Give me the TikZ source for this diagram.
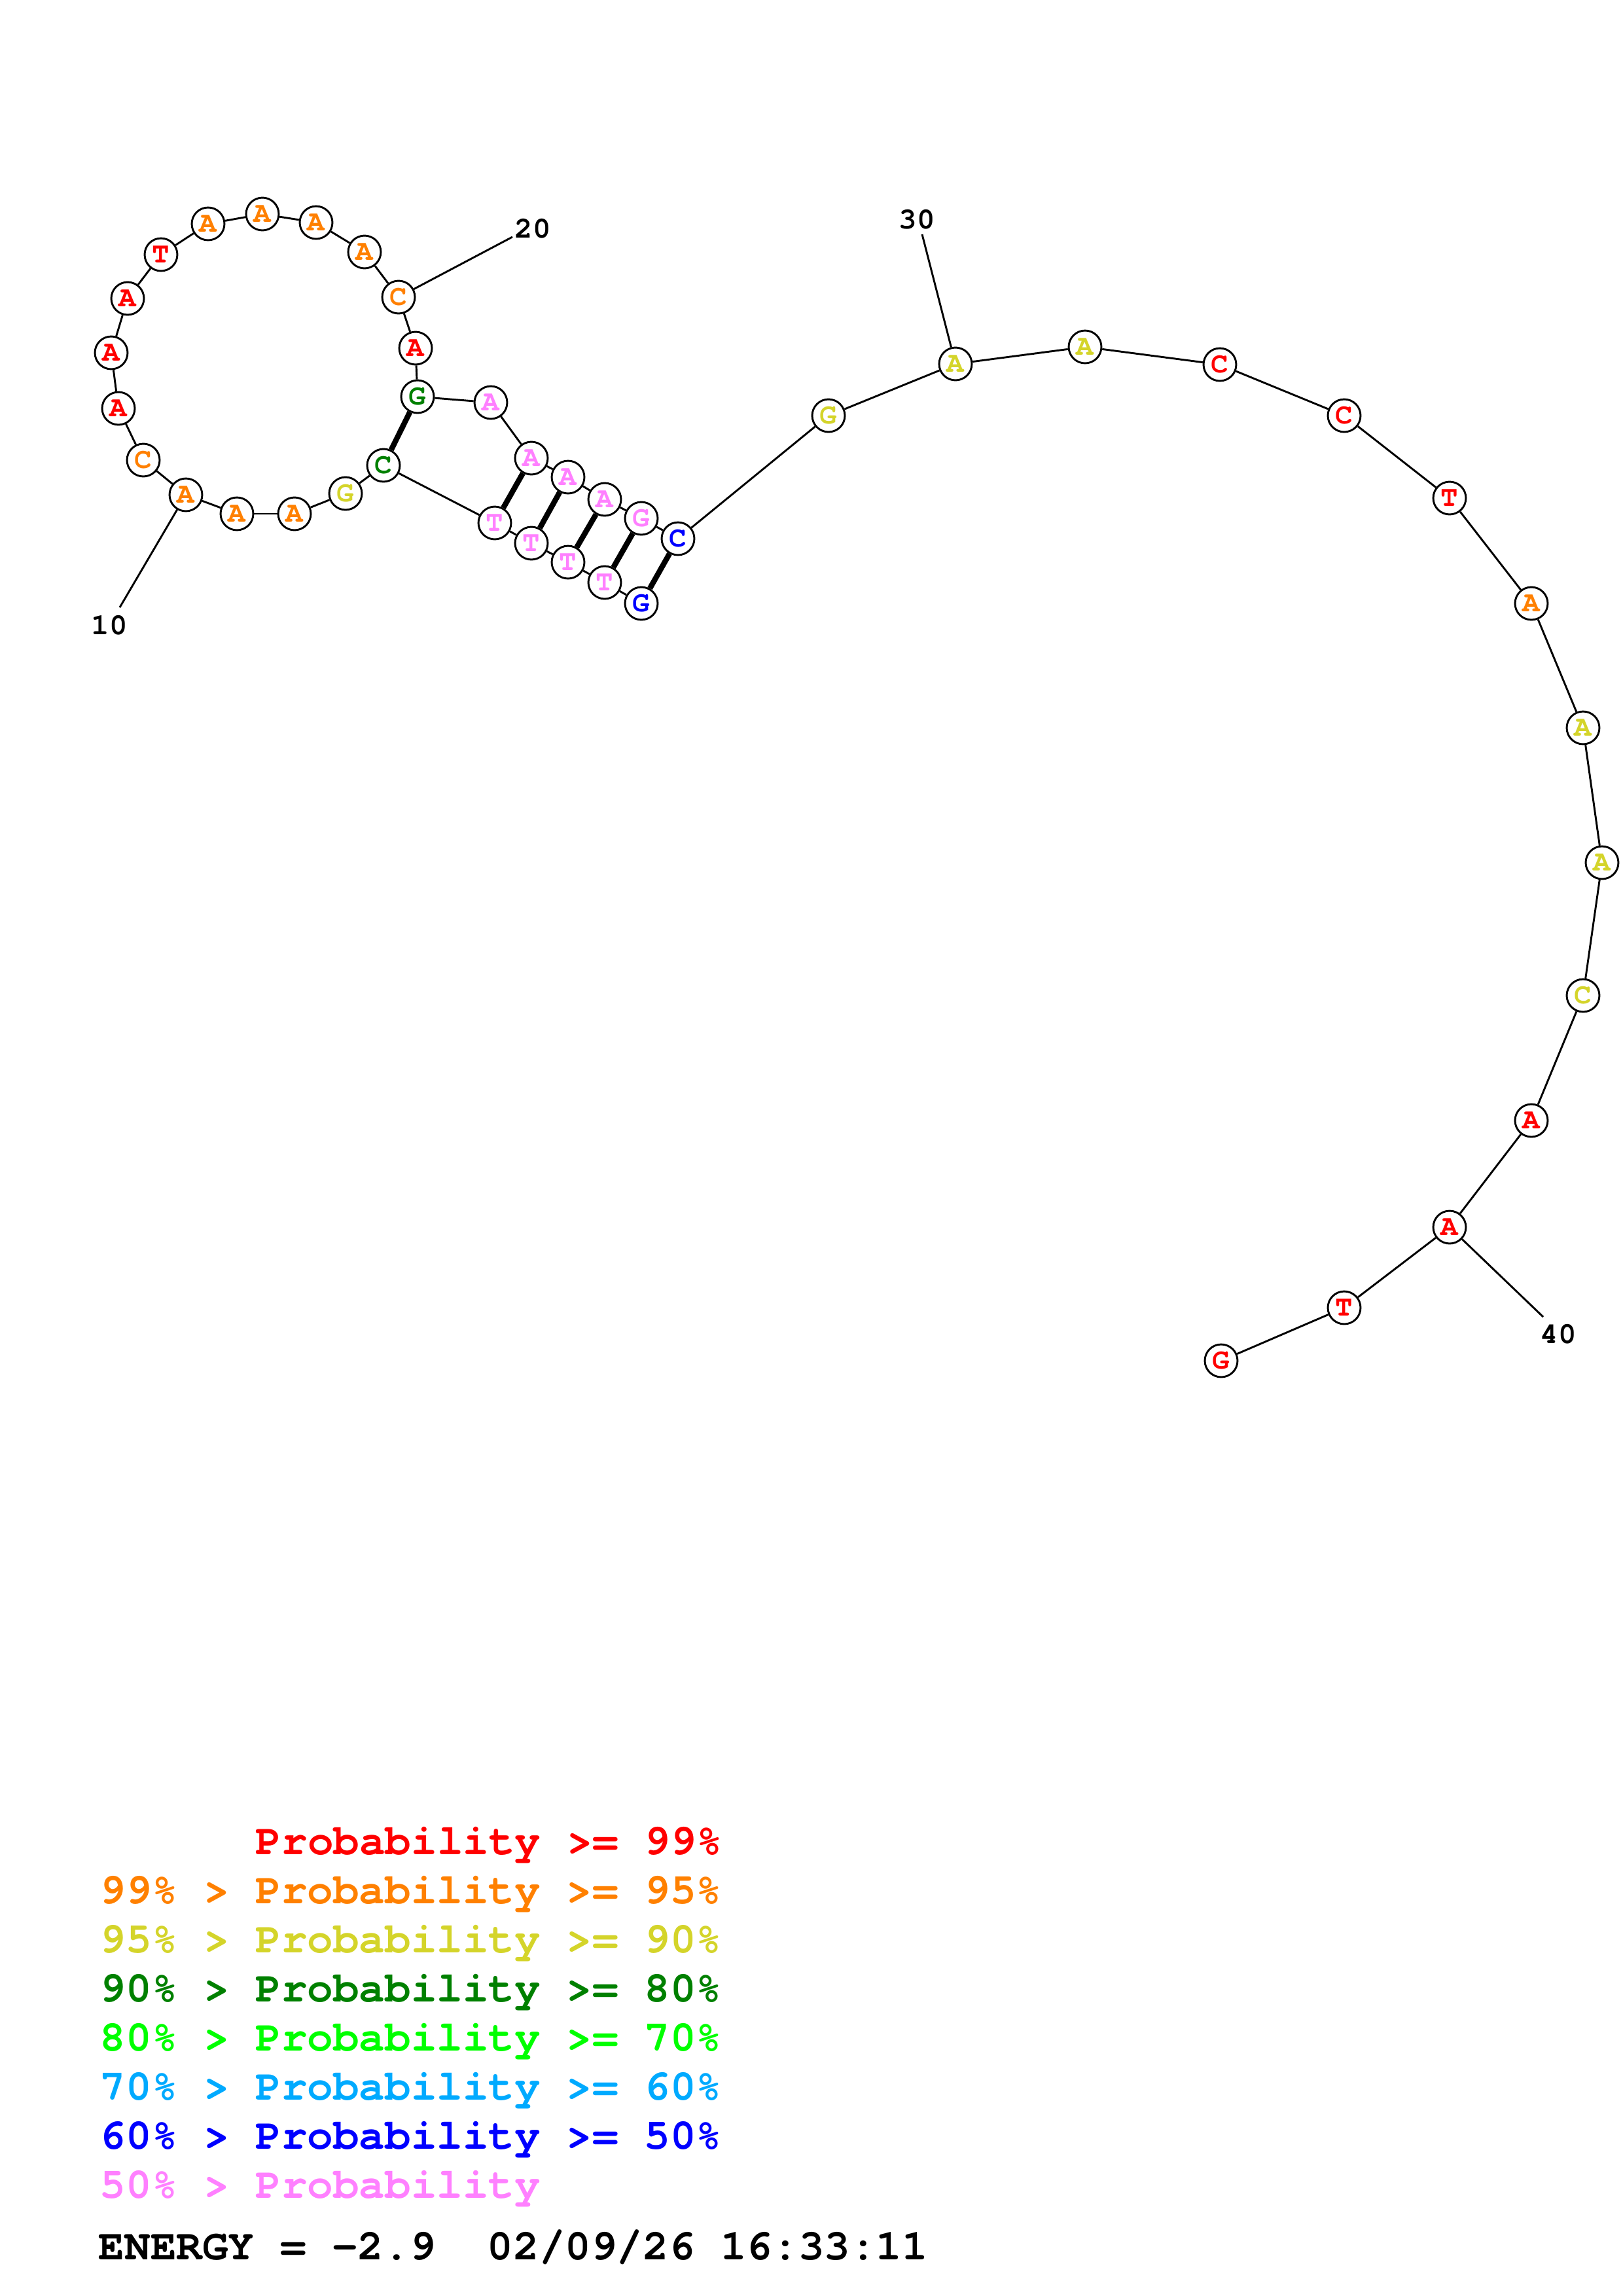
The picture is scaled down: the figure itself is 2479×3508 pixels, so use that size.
\documentclass[tikz,border=0pt]{standalone}
\usepackage{fontspec}
\setmonofont{TeX Gyre Cursor}
\usepackage{xcolor}
\usepackage{tikz}
\definecolor{pred}{HTML}{FF0000}
\definecolor{porng}{HTML}{FF8000}
\definecolor{pyell}{HTML}{D4D42A}
\definecolor{pdgrn}{HTML}{008000}
\definecolor{plgrn}{HTML}{00FF00}
\definecolor{pcyan}{HTML}{00AAFF}
\definecolor{pblue}{HTML}{0000FF}
\definecolor{ppink}{HTML}{FF80FF}
\tikzset{
  nd/.style={circle,draw=black,line width=0.7bp,fill=white,minimum size=12bp,inner sep=0pt,font=\fontsize{10.6bp}{11bp}\selectfont\ttfamily\bfseries},
  bb/.style={line width=0.7bp},
  pr/.style={line width=2bp},
  num/.style={inner sep=0pt,font=\fontsize{11bp}{12bp}\selectfont\ttfamily\bfseries},
  lg/.style={anchor=base west,inner sep=0pt,font=\fontsize{15.85bp}{18bp}\selectfont\ttfamily\bfseries}
}

\begin{document}
\begin{tikzpicture}[x=0.24012bp,y=-0.24012bp]
\useasboundingbox (0,0) rectangle (2479,3508);
% stem 5'
\node[nd,text=pblue] (n1) at (980,922) {G};
\node[nd,text=ppink] (n2) at (924,890) {T};
\node[nd,text=ppink] (n3) at (868,859) {T};
\node[nd,text=ppink] (n4) at (812,830) {T};
\node[nd,text=ppink] (n5) at (756,799) {T};
\node[nd,text=pdgrn] (n6) at (586,711) {C};
% loop
\node[nd,text=pyell] (n7) at (528,754) {G};
\node[nd,text=porng] (n8) at (450,785) {A};
\node[nd,text=porng] (n9) at (362,785) {A};
\node[nd,text=porng] (n10) at (284,756) {A};
\node[nd,text=porng] (n11) at (219,703) {C};
\node[nd,text=pred] (n12) at (181,624) {A};
\node[nd,text=pred] (n13) at (170,539) {A};
\node[nd,text=pred] (n14) at (195,456) {A};
\node[nd,text=pred] (n15) at (246,389) {T};
\node[nd,text=porng] (n16) at (318,342) {A};
\node[nd,text=porng] (n17) at (401,327) {A};
\node[nd,text=porng] (n18) at (483,340) {A};
\node[nd,text=porng] (n19) at (557,385) {A};
\node[nd,text=porng] (n20) at (609,454) {C};
\node[nd,text=pred] (n21) at (635,532) {A};
\node[nd,text=pdgrn] (n22) at (638,606) {G};
% stem 3'
\node[nd,text=ppink] (n23) at (750,615) {A};
\node[nd,text=ppink] (n24) at (812,700) {A};
\node[nd,text=ppink] (n25) at (868,729) {A};
\node[nd,text=ppink] (n26) at (924,763) {A};
\node[nd,text=ppink] (n27) at (980,792) {G};
\node[nd,text=pblue] (n28) at (1036,823) {C};
% tail
\node[nd,text=pyell] (n29) at (1266,635) {G};
\node[nd,text=pyell] (n30) at (1460,556) {A};
\node[nd,text=pyell] (n31) at (1658,530) {A};
\node[nd,text=pred] (n32) at (1864,557) {C};
\node[nd,text=pred] (n33) at (2054,635) {C};
\node[nd,text=pred] (n34) at (2215,761) {T};
\node[nd,text=porng] (n35) at (2340,922) {A};
\node[nd,text=pyell] (n36) at (2419,1112) {A};
\node[nd,text=pyell] (n37) at (2448,1318) {A};
\node[nd,text=pyell] (n38) at (2419,1521) {C};
\node[nd,text=pred] (n39) at (2340,1712) {A};
\node[nd,text=pred] (n40) at (2215,1875) {A};
\node[nd,text=pred] (n41) at (2054,1998) {T};
\node[nd,text=pred] (n42) at (1866,2079) {G};

\foreach \i in {1,...,41}{
  \pgfmathtruncatemacro\j{\i+1}
  \draw[bb] (n\i)--(n\j);
}
\foreach \a/\b in {1/28,2/27,3/26,4/25,5/24,6/22}
  \draw[pr] (n\a)--(n\b);

% numbering
\coordinate (t10) at (183,928);
\coordinate (t20) at (783,362);
\coordinate (t30) at (1409,358);
\coordinate (t40) at (2358,2012);
\node[num] (l10) at (167,955) {10};
\node[num] (l20) at (814,349) {20};
\node[num] (l30) at (1401,335) {30};
\node[num] (l40) at (2381,2038) {40};
\draw[bb] (n10)--(t10);
\draw[bb] (n20)--(t20);
\draw[bb] (n30)--(t30);
\draw[bb] (n40)--(t40);

% legend
\node[lg,text=pred] (g1) at (390,2833) {Probability >= 99\%};
\node[lg,text=porng] (g2) at (152,2908) {99\% > Probability >= 95\%};
\node[lg,text=pyell] (g3) at (152,2983) {95\% > Probability >= 90\%};
\node[lg,text=pdgrn] (g4) at (152,3058) {90\% > Probability >= 80\%};
\node[lg,text=plgrn] (g5) at (152,3133) {80\% > Probability >= 70\%};
\node[lg,text=pcyan] (g6) at (152,3208) {70\% > Probability >= 60\%};
\node[lg,text=pblue] (g7) at (152,3283) {60\% > Probability >= 50\%};
\node[lg,text=ppink] (g8) at (152,3358) {50\% > Probability};
\node[lg] (en) at (150,3452) {ENERGY = -2.9\ \ 02/09/26 16:33:11};
\end{tikzpicture}
\end{document}
